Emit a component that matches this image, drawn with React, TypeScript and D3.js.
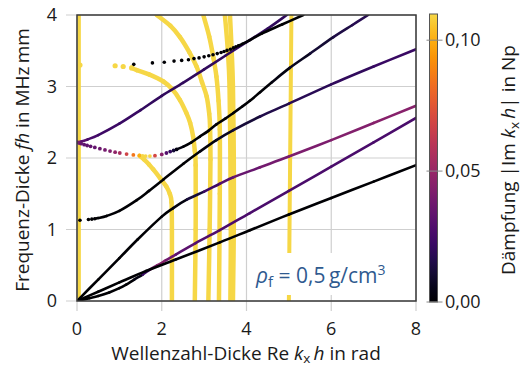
import React from "react";
import * as d3 from "d3";

type P = [number, number, number]; // [Re k_x h, f h, damping]

const xTicks = [0, 2, 4, 6, 8];
const yTicks = [0, 1, 2, 3, 4];
const cTicks = [0, 0.05, 0.1];
const cTickLabels = ["0,00", "0,05", "0,10"];

// strongly damped (saturated) branches
const yellowZero: P[] = [[0.05, 0, 0.12], [0.05, 4, 0.12]];
const yellowA: P[] = [[0.07, 3.3, 0.12], [0.9, 3.29, 0.12], [1.09, 3.28, 0.12], [1.29, 3.26, 0.12], [1.41, 3.23, 0.12], [1.7, 3.17, 0.12], [2.04, 3.07, 0.12], [2.25, 2.96, 0.12], [2.43, 2.81, 0.12], [2.58, 2.63, 0.12], [2.67, 2.49, 0.12], [2.74, 2.3, 0.12], [2.78, 2.1, 0.12], [2.8, 1.9, 0.12], [2.8, 1.0, 0.12], [2.78, 0, 0.12]];
const yellowB: P[] = [[1.88, 4.0, 0.12], [2.2, 3.85, 0.12], [2.43, 3.69, 0.12], [2.65, 3.48, 0.12], [2.82, 3.28, 0.12], [2.95, 3.06, 0.12], [3.06, 2.86, 0.12], [3.12, 2.62, 0.12], [3.14, 2.44, 0.12], [3.15, 1.98, 0.12], [3.13, 1.0, 0.12], [3.1, 0, 0.12]];
const yellowC: P[] = [[2.98, 4.0, 0.12], [3.12, 3.7, 0.12], [3.22, 3.4, 0.12], [3.29, 3.14, 0.12], [3.34, 2.8, 0.12], [3.37, 2.4, 0.12], [3.37, 1.5, 0.12], [3.35, 0, 0.12]];
const yellowD1: P[] = [[3.49, 4, 0.12], [3.56, 3.5, 0.12], [3.6, 3.0, 0.12], [3.62, 2.0, 0.12], [3.63, 1.0, 0.12], [3.62, 0, 0.12]];
const yellowD2: P[] = [[3.61, 4, 0.12], [3.65, 3.5, 0.12], [3.68, 3.0, 0.12], [3.7, 2.0, 0.12], [3.7, 1.0, 0.12], [3.68, 0, 0.12]];
const yellowE: P[] = [[1.48, 2.03, 0.12], [1.58, 1.98, 0.12], [1.7, 1.91, 0.12], [1.8, 1.84, 0.12], [1.96, 1.72, 0.12], [2.11, 1.6, 0.12], [2.19, 1.5, 0.12], [2.23, 1.38, 0.12], [2.24, 1.0, 0.12], [2.24, 0, 0.12]];
const yellowF: P[] = [[5.06, 4, 0.12], [5.03, 2, 0.12], [5.0, 0, 0.12]];

// weakly damped branches
const scholte: P[] = [[0, 0, 0], [0.5, 0.13, 0], [1, 0.26, 0], [1.63, 0.42, 0], [2.33, 0.58, 0], [3.37, 0.82, 0], [4.08, 0.99, 0], [5, 1.21, 0], [6, 1.44, 0], [7, 1.67, 0], [8, 1.9, 0]];
const a0: P[] = [[0, 0, 0], [0.29, 0.04, 0], [0.5, 0.07, 0], [0.76, 0.12, 0], [1.0, 0.18, 0], [1.16, 0.23, 0], [1.35, 0.3, 0], [1.55, 0.37, 0.008], [1.72, 0.44, 0.035], [1.9, 0.5, 0.048], [2.1, 0.57, 0.042], [2.33, 0.65, 0.034], [2.8, 0.81, 0.03], [3.37, 0.99, 0.028], [4.08, 1.23, 0.027], [5, 1.54, 0.027], [6, 1.88, 0.027], [7, 2.22, 0.027], [8, 2.56, 0.027]];
const s0: P[] = [[0, 0, 0], [0.5, 0.3, 0], [1, 0.6, 0], [1.43, 0.86, 0], [2, 1.18, 0], [2.27, 1.3, 0], [2.6, 1.42, 0.006], [3.0, 1.53, 0.018], [3.37, 1.64, 0.028], [3.69, 1.73, 0.033], [4.32, 1.87, 0.038], [5, 2.02, 0.041], [6, 2.25, 0.043], [7, 2.49, 0.044], [8, 2.73, 0.046]];
const a1: P[] = [[0.07, 1.13, 0], [0.27, 1.14, 0], [0.35, 1.145, 0], [0.42, 1.15, 0], [0.5, 1.16, 0], [0.7, 1.19, 0], [1.0, 1.26, 0], [1.41, 1.41, 0], [1.7, 1.54, 0], [2.04, 1.7, 0], [2.51, 1.92, 0], [2.9, 2.09, 0], [3.29, 2.25, 0.005], [3.69, 2.39, 0.01], [4.32, 2.58, 0.014], [5, 2.76, 0.017], [6, 3.03, 0.019], [7, 3.28, 0.021], [8, 3.52, 0.023]];
const s1: P[] = [[0, 2.22, 0.045], [0.05, 2.21, 0.04], [0.1, 2.2, 0.035], [0.17, 2.187, 0.033], [0.24, 2.175, 0.033], [0.32, 2.163, 0.034], [0.42, 2.148, 0.035], [0.54, 2.13, 0.037], [0.66, 2.113, 0.04], [0.78, 2.097, 0.043], [0.9, 2.082, 0.048], [1.01, 2.07, 0.055], [1.17, 2.055, 0.068], [1.33, 2.043, 0.085], [1.47, 2.035, 0.1], [1.55, 2.03, 0.11], [1.62, 2.027, 0.12], [1.72, 2.027, 0.11], [1.84, 2.032, 0.07], [2.0, 2.05, 0.045], [2.11, 2.07, 0.03], [2.2, 2.09, 0.02], [2.28, 2.105, 0.012], [2.35, 2.12, 0.006], [2.51, 2.16, 0], [2.7, 2.22, 0], [2.9, 2.3, 0], [3.1, 2.38, 0], [3.29, 2.47, 0], [3.5, 2.55, 0], [3.69, 2.63, 0], [3.9, 2.72, 0], [4.08, 2.8, 0], [4.32, 2.92, 0], [4.6, 3.06, 0.002], [5.02, 3.26, 0.005], [5.5, 3.46, 0.009], [6.05, 3.69, 0.013], [6.5, 3.86, 0.016], [6.87, 4.0, 0.018]];
const a2: P[] = [[0, 2.22, 0.045], [0.1, 2.23, 0.035], [0.25, 2.26, 0.028], [0.5, 2.32, 0.024], [1, 2.48, 0.022], [1.5, 2.67, 0.021], [2, 2.87, 0.02], [2.5, 3.05, 0.02], [3, 3.24, 0.02], [3.5, 3.43, 0.02], [4, 3.62, 0.02], [4.5, 3.81, 0.02], [4.95, 4.0, 0.02]];
const upper: P[] = [[1.34, 3.31, 0], [1.78, 3.33, 0], [2.06, 3.34, 0], [2.29, 3.355, 0], [2.47, 3.365, 0], [2.63, 3.375, 0], [2.76, 3.39, 0], [2.88, 3.4, 0], [3.0, 3.415, 0], [3.11, 3.43, 0], [3.21, 3.445, 0], [3.31, 3.46, 0], [3.4, 3.475, 0], [3.47, 3.49, 0], [3.54, 3.505, 0], [3.62, 3.52, 0], [3.69, 3.54, 0], [3.75, 3.555, 0], [3.81, 3.57, 0], [3.9, 3.595, 0], [4.08, 3.65, 0], [4.36, 3.74, 0], [4.85, 3.87, 0], [5.34, 4.0, 0]];

const curves = [
  { pts: yellowZero, w: 3.5, dots: 0, r: 2.6 },
  { pts: yellowA, w: 4.5, dots: 4, r: 2.6 },
  { pts: yellowB, w: 4.5, dots: 0, r: 2.6 },
  { pts: yellowC, w: 4.5, dots: 0, r: 2.6 },
  { pts: yellowD1, w: 4.5, dots: 0, r: 2.6 },
  { pts: yellowD2, w: 4.5, dots: 0, r: 2.6 },
  { pts: yellowE, w: 4.5, dots: 0, r: 2.6 },
  { pts: yellowF, w: 4.0, dots: 0, r: 2.6 },
  { pts: s0, w: 2.6, dots: 0, r: 1.8 },
  { pts: a0, w: 2.6, dots: 0, r: 1.8 },
  { pts: scholte, w: 2.6, dots: 0, r: 1.8 },
  { pts: a1, w: 2.6, dots: 4, r: 1.8 },
  { pts: a2, w: 2.6, dots: 0, r: 1.8 },
  { pts: s1, w: 2.6, dots: 24, r: 1.9 },
  { pts: upper, w: 2.6, dots: 19, r: 1.8 },
];

const W = 524, H = 369;
const L = 77, R = 416, T = 15, B = 301;
const CMAX = 0.11;
const FONT = "'Open Sans', 'DejaVu Sans', sans-serif";
const FS = 18;
const LFS = 19;
const TXT = "#1a1a1a";

const color = (d: number) => d3.interpolateInferno(Math.min(d / CMAX, 1) * 0.9);

export default function App() {
  const x = d3.scaleLinear().domain([0, 8]).range([L, R]);
  const y = d3.scaleLinear().domain([0, 4]).range([B, T]);
  const c = d3.scaleLinear().domain([0, CMAX]).range([302, 14]);
  const cbX = 429.5, cbW = 8;
  const stops = d3.range(0, 21).map((i) => i / 20);

  // Catmull-Rom segment between points i and i+1 of a pixel list
  const seg = (px: [number, number][], i: number) => {
    const p0 = px[Math.max(i - 1, 0)];
    const p1 = px[i];
    const p2 = px[i + 1];
    const p3 = px[Math.min(i + 2, px.length - 1)];
    const c1x = p1[0] + (p2[0] - p0[0]) / 6, c1y = p1[1] + (p2[1] - p0[1]) / 6;
    const c2x = p2[0] - (p3[0] - p1[0]) / 6, c2y = p2[1] - (p3[1] - p1[1]) / 6;
    return `M${p1[0]},${p1[1]}C${c1x},${c1y} ${c2x},${c2y} ${p2[0]},${p2[1]}`;
  };

  return (
    <svg width={W} height={H} style={{ position: "absolute", left: 0, top: 0 }} fontFamily={FONT}>
      <defs>
        <clipPath id="plot">
          <rect x={L} y={T} width={R - L} height={B - T} />
        </clipPath>
        <linearGradient id="cb" x1="0" y1="1" x2="0" y2="0">
          {stops.map((s) => (
            <stop key={s} offset={s} stopColor={d3.interpolateInferno(s * 0.9)} />
          ))}
        </linearGradient>
      </defs>
      <rect x={0} y={0} width={W} height={H} fill="#fff" />
      {/* grid */}
      {xTicks.map((t) => (
        <line key={"gx" + t} x1={x(t)} x2={x(t)} y1={T} y2={B + 10} stroke="#cfcfcf" strokeWidth={1.2} />
      ))}
      {yTicks.map((t) => (
        <line key={"gy" + t} x1={L - 11} x2={R} y1={y(t)} y2={y(t)} stroke="#cfcfcf" strokeWidth={1.2} />
      ))}
      {/* curves */}
      <g clipPath="url(#plot)">
        {curves.map((cv, ci) => {
          const start = Math.max(cv.dots - 1, 0);
          const solid = cv.pts.slice(start);
          const px = solid.map((p) => [x(p[0]), y(p[1])] as [number, number]);
          return (
            <g key={ci}>
              {cv.pts.slice(0, cv.dots).map((p, i) => (
                <circle key={"d" + i} cx={x(p[0])} cy={y(p[1])} r={cv.r} fill={color(p[2])} />
              ))}
              {solid.slice(0, -1).map((p, i) => {
                const q = solid[i + 1];
                return (
                  <path key={"s" + i} d={seg(px, i)} fill="none"
                    stroke={color((p[2] + q[2]) / 2)} strokeWidth={cv.w} strokeLinecap="round" />
                );
              })}
            </g>
          );
        })}
      </g>
      {/* annotation */}
      <rect x={250} y={253} width={157} height={42} fill="#fff" />
      <text x={256} y={283} fontSize={21} fill="#2f5a8f">
        <tspan fontStyle="italic">ρ</tspan>
        <tspan dy={4} fontSize={15}>f</tspan>
        <tspan dy={-4}>{" = 0,5\u2009g/cm"}</tspan>
        <tspan dy={-8} fontSize={14}>3</tspan>
      </text>
      {/* frame */}
      <rect x={L} y={T} width={R - L} height={B - T} fill="none" stroke="#3a3a3a" strokeWidth={1.5} />
      {/* tick labels */}
      {xTicks.map((t) => (
        <text key={"xl" + t} x={x(t)} y={335} textAnchor="middle" fontSize={FS} fill={TXT}>{t}</text>
      ))}
      {yTicks.map((t) => (
        <text key={"yl" + t} x={57} y={y(t)} dy="0.35em" textAnchor="end" fontSize={FS} fill={TXT}>{t}</text>
      ))}
      {/* axis labels */}
      <text x={246} y={360} textAnchor="middle" fontSize={LFS} fill={TXT}>
        {"Wellenzahl-Dicke Re "}
        <tspan fontStyle="italic">k</tspan>
        <tspan dy={3} fontSize={13.5}>x</tspan>
        <tspan dy={-3} fontStyle="italic">{"\u2009h"}</tspan>
        {" in rad"}
      </text>
      <text transform={`translate(29,${(T + B) / 2 + 2}) rotate(-90)`} textAnchor="middle" fontSize={LFS} fill={TXT}>
        {"Frequenz-Dicke "}
        <tspan fontStyle="italic">fh</tspan>
        {" in MHz\u2009mm"}
      </text>
      {/* colorbar */}
      <rect x={cbX} y={14} width={cbW} height={288} fill="url(#cb)" stroke="#555" strokeWidth={1} />
      {cTicks.map((t, i) => (
        <g key={"ct" + t}>
          <line x1={cbX - 3} x2={cbX + cbW + 5} y1={c(t)} y2={c(t)} stroke="#888" strokeWidth={1} />
          <text x={445} y={c(t)} dy="0.35em" fontSize={FS} fill={TXT}>{cTickLabels[i]}</text>
        </g>
      ))}
      <text transform={`translate(515,${(T + B) / 2 + 2}) rotate(-90)`} textAnchor="middle" fontSize={LFS} fill={TXT}>
        {"Dämpfung |Im "}
        <tspan fontStyle="italic">k</tspan>
        <tspan dy={4} fontSize={13.5}>x</tspan>
        <tspan dy={-4} fontStyle="italic">{"\u2009h"}</tspan>
        {"| in Np"}
      </text>
    </svg>
  );
}
